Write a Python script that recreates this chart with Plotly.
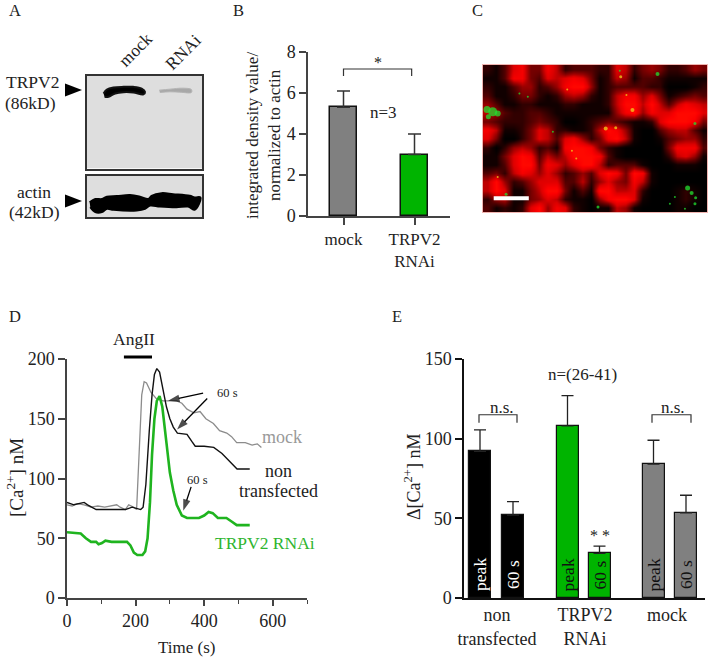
import plotly.graph_objects as go

W, H = 710, 659
SERIF = "Liberation Serif"
INK = "#222222"
GREEN = "#00b400"
GREY = "#808080"

# ---------- Panel B ----------
b_labels = ["mock", "TRPV2<br>RNAi"]
b_values = [5.3, 3.0]
b_errors = [0.8, 1.0]
b_colors = [GREY, GREEN]
b_bracket_x = [0, 0, 0.96, 0.96]
b_bracket_y = [6.83, 7.17, 7.17, 6.83]

# ---------- Panel D ----------
black_t = [0, 20, 50, 60, 85, 120, 170, 190, 205, 215, 222, 230, 240, 248, 255, 262, 270, 280, 290, 300, 310,
           322, 350, 364, 374, 400, 428, 452, 471, 496, 533]
black_v = [80, 78, 80, 78, 74, 74, 74, 76, 75, 74, 76, 95, 140, 170, 187, 192, 189, 175, 160, 150, 143,
           138, 137, 131, 127, 127, 126, 121, 115, 108, 108]
grey_t = [0, 15, 30, 50, 70, 90, 110, 130, 145, 155, 170, 180, 195, 203, 207, 212, 218, 225, 232, 245, 260, 280,
          300, 320, 335, 350, 370, 388, 405, 427, 445, 466, 480, 495, 520, 540, 555, 567]
grey_v = [78, 77, 79, 78, 76, 77, 76, 77, 78, 76, 74, 78, 76, 74, 100, 140, 170, 181, 180, 172, 167, 165,
          165, 165, 163, 158, 155, 156, 150, 146, 140, 138, 135, 130, 130, 128, 129, 126]
green_t = [0, 40, 55, 70, 85, 92, 102, 112, 130, 175, 185, 195, 205, 220, 228, 235, 242, 248, 255, 262, 270, 278,
           290, 300, 310, 320, 335, 350, 385, 400, 413, 425, 440, 465, 480, 495, 533]
green_v = [55, 54, 50, 47, 47, 45, 46, 48, 47, 47, 44, 38, 36, 36, 39, 50, 80, 120, 150, 165, 169, 160,
           130, 105, 90, 78, 69, 67, 67, 69, 72, 71, 67, 67, 64, 61, 61]
angii_t = [166, 248]
arrow1_t, arrow1_v = [397, 295], [171.5, 165]
arrow2_t, arrow2_v = [409, 321], [167, 141]
arrow3_t, arrow3_v = [362, 339], [93, 73]

# ---------- Panel E ----------
e_groups = ["non<br>transfected", "TRPV2<br>RNAi", "mock"]
e_group_x = [33, 121, 203]
e_bar_x = [16, 49, 103.5, 135.5, 189.5, 222]
e_values = [92, 52, 108, 28, 84, 53.5]
e_errors = [13.5, 8.5, 19, 4.5, 15, 11]
e_colors = ["#000000", "#000000", GREEN, GREEN, GREY, GREY]
e_names = ["peak", "60 s", "peak", "60 s", "peak", "60 s"]
e_text_colors = ["#ffffff", "#ffffff", "#111111", "#111111", "#111111", "#111111"]
e_br1_x = [15, 15, 53, 53]
e_br2_x = [188, 188, 227, 227]
e_br_y = [110, 115, 115, 110]

# ---------- Panel A (blot outlines, read in picture units) ----------
band1_x = [70, 80, 100, 130, 160, 185, 195, 190, 160, 130, 105, 85, 73]
band1_y = [70, 58, 52, 50, 50, 55, 65, 73, 67, 66, 70, 80, 80]
band2_x = [238, 270, 310, 335, 335, 300, 270, 240]
band2_y = [60, 57, 54, 58, 67, 66, 65, 67]
actin_x = [28, 45, 65, 80, 110, 150, 180, 205, 215, 245, 280, 330, 345, 362, 358, 345, 325, 290, 240, 210, 195, 170, 100, 80, 65, 45, 30]
actin_y = [395, 385, 385, 378, 376, 373, 378, 385, 375, 367, 370, 375, 380, 380, 400, 418, 408, 410, 408, 405, 415, 420, 418, 415, 425, 425, 410]

micro_rows = [
    "21378448623332276245422354",
    "11388437678741265133211111",
    "21135523589951233332200012",
    "31124421256521268857412343",
    "53112211122111269969636876",
    "65322332111111158958779997",
    "43222343200123432112799984",
    "86112476221126985100356631",
    "74002476378524896100134552",
    "20256523189984210000048883",
    "11479836469998310000026751",
    "11379948757996233310001110",
    "34268757523537984981000000",
    "69523577733625754861000000",
    "69711469941319966720001210",
    "25611457621105899710001210",
    "31212795872101165100001100",
]
micro_z = [[int(c) for c in row] for row in micro_rows]
green_x = [45, 28, 60, 32, 538, 628, 640, 652, 650, 360, 425, 125, 150, 225, 650, 85, 590, 575, 620]
green_y = [155, 148, 160, 170, 42, 383, 398, 412, 430, 440, 32, 100, 110, 215, 190, 402, 410, 430, 445]
green_s = [9, 7, 6, 5, 4, 5, 4, 3, 3, 3, 2, 2, 2, 2, 3, 3, 2, 2, 2]
yellow_x = [463, 428, 383, 413, 295, 282, 268, 445, 60]
yellow_y = [150, 50, 205, 203, 295, 272, 88, 105, 350]
yellow_s = [4, 3, 4, 3, 2, 2, 2, 2, 2]
scalebar_x = [48, 153]
scalebar_y = [414, 414]

fig = go.Figure()


def xdom(a, b):
    return [a / W, b / W]


def ydom(top, bottom):
    return [1 - bottom / H, 1 - top / H]


def note(px, py, text, size=17, color=INK, angle=0):
    return dict(x=px / W, y=1 - py / H, xref="paper", yref="paper", text=text, showarrow=False,
                font=dict(family=SERIF, size=size, color=color), textangle=angle,
                xanchor="center", yanchor="middle")


def triangle(x0, x1, yc, half):
    return dict(type="path", xref="paper", yref="paper", fillcolor="#000000", line_width=0,
                path=f"M {x0 / W} {1 - (yc - half) / H} L {x1 / W} {1 - yc / H} L {x0 / W} {1 - (yc + half) / H} Z")


axis_font = dict(family=SERIF, size=18, color=INK)

# Panel B
fig.add_bar(x=[0, 1], y=b_values, width=0.39, marker=dict(color=b_colors, line=dict(color="#111111", width=1.5)),
            error_y=dict(type="data", symmetric=False, array=b_errors, arrayminus=[0, 0], color="#333333", thickness=1.5, width=6.5),
            xaxis="x", yaxis="y", showlegend=False)
fig.add_scatter(x=b_bracket_x, y=b_bracket_y, mode="lines", line=dict(color="#333333", width=1.2), xaxis="x", yaxis="y", showlegend=False)

# Panel D
fig.add_scatter(x=grey_t, y=grey_v, mode="lines", line=dict(color="#8c8c8c", width=1.3), xaxis="x2", yaxis="y2", showlegend=False)
fig.add_scatter(x=black_t, y=black_v, mode="lines", line=dict(color="#111111", width=1.4), xaxis="x2", yaxis="y2", showlegend=False)
fig.add_scatter(x=green_t, y=green_v, mode="lines", line=dict(color="#1fb41f", width=2.6), xaxis="x2", yaxis="y2", showlegend=False)
for at, av in ((arrow1_t, arrow1_v), (arrow2_t, arrow2_v), (arrow3_t, arrow3_v)):
    fig.add_scatter(x=at, y=av, mode="lines+markers", line=dict(color="#000000", width=1.3),
                    marker=dict(symbol="arrow", size=[0, 12], angleref="previous", color="#000000", line_width=0),
                    xaxis="x2", yaxis="y2", showlegend=False)

# Panel E
fig.add_bar(x=e_bar_x, y=e_values, width=22, marker=dict(color=e_colors, line=dict(color="#111111", width=1.2)),
            error_y=dict(type="data", symmetric=False, array=e_errors, arrayminus=[0] * 6, color="#222222", thickness=1.3, width=6),
            xaxis="x3", yaxis="y3", showlegend=False)
for bx in (e_br1_x, e_br2_x):
    fig.add_scatter(x=bx, y=e_br_y, mode="lines", line=dict(color="#333333", width=1.2), xaxis="x3", yaxis="y3", showlegend=False)

# Panel A blots
fig.add_scatter(x=band1_x, y=band1_y, mode="lines", fill="toself", fillcolor="#000000", line=dict(color="#111111", width=2, shape="spline"), xaxis="x4", yaxis="y4", showlegend=False)
fig.add_scatter(x=band2_x, y=band2_y, mode="lines", fill="toself", fillcolor="#a8a8a8", line=dict(color="#b4b4b4", width=1, shape="spline"), xaxis="x4", yaxis="y4", showlegend=False)
fig.add_scatter(x=actin_x, y=actin_y, mode="lines", fill="toself", fillcolor="#000000", line=dict(color="#000000", width=2, shape="spline"), xaxis="x5", yaxis="y5", showlegend=False)

# Panel C
fig.add_heatmap(z=micro_z, x0=29, dx=25.8, y0=28, dy=25.9, zmin=0, zmax=9, zsmooth="best", showscale=False, hoverinfo="skip",
                colorscale=[[0, "#000000"], [0.12, "#120000"], [0.3, "#480000"], [0.55, "#960000"], [0.75, "#dc0000"], [0.92, "#fc0000"], [1, "#ff0800"]],
                xaxis="x6", yaxis="y6")
fig.add_scatter(x=green_x, y=green_y, mode="markers", marker=dict(color="#22e030", size=green_s, line_width=0, opacity=0.75), xaxis="x6", yaxis="y6", showlegend=False)
fig.add_scatter(x=yellow_x, y=yellow_y, mode="markers", marker=dict(color="#f0e020", size=yellow_s, line_width=0), xaxis="x6", yaxis="y6", showlegend=False)
fig.add_scatter(x=scalebar_x, y=scalebar_y, mode="lines", line=dict(color="#ffffff", width=4), xaxis="x6", yaxis="y6", showlegend=False)

shapes = [
    dict(type="rect", xref="x4", yref="y4", x0=20, x1=367, y0=17, y1=298, fillcolor="#dedede", line_width=0, layer="below"),
    dict(type="rect", xref="x5", yref="y5", x0=20, x1=367, y0=313, y1=440, fillcolor="#dedede", line_width=0, layer="below"),
    dict(type="rect", xref="x6", yref="y6", x0=16, x1=686, y0=15, y1=455, fillcolor="#000000", line_width=0, layer="below"),
    triangle(65, 82, 90, 6.5), triangle(65, 82, 201, 6.5),
    dict(type="line", xref="x2", yref="paper", x0=angii_t[0], x1=angii_t[1], y0=1 - 357 / H, y1=1 - 357 / H, line=dict(color="#000000", width=3)),
]

ax_line = dict(showline=True, showgrid=False, zeroline=False, tickfont=axis_font, ticks="outside")
hidden = dict(showline=True, mirror=True, showgrid=False, zeroline=False, showticklabels=False, ticks="")

bar_notes = [
    dict(x=bx, y=14.5, xref="x3", yref="y3", text=name, showarrow=False, textangle=-90,
         font=dict(family=SERIF, size=17.5, color=col), xanchor="center", yanchor="middle")
    for bx, name, col in zip(e_bar_x, e_names, e_text_colors)
]

fig.update_layout(
    width=W, height=H, margin=dict(l=0, r=0, t=0, b=0, pad=0, autoexpand=False), paper_bgcolor="#ffffff", plot_bgcolor="#ffffff",
    bargap=0, showlegend=False, shapes=shapes,
    xaxis=dict(ax_line, domain=xdom(308, 450), range=[-0.5, 1.5], tickvals=[0, 1], ticktext=b_labels,
               linecolor="#444444", linewidth=1.5, tickcolor="#444444", ticklen=7, tickwidth=1.5,
               tickfont=dict(family=SERIF, size=17, color=INK)),
    yaxis=dict(ax_line, domain=ydom(52, 216), range=[0, 8], dtick=2, anchor="x",
               linecolor="#444444", linewidth=1.5, tickcolor="#444444", ticklen=7, tickwidth=1.5),
    xaxis2=dict(ax_line, domain=xdom(67, 307), range=[0, 700], tickvals=[0, 200, 400, 600], anchor="y2",
                linecolor="#444444", linewidth=1.5, tickcolor="#444444", ticklen=6, tickwidth=1.5,
                minor=dict(dtick=100, ticks="outside", ticklen=4, tickcolor="#444444", tickwidth=1.2)),
    yaxis2=dict(ax_line, domain=ydom(359, 598), range=[0, 200], dtick=50, anchor="x2",
                linecolor="#444444", linewidth=1.5, tickcolor="#444444", ticklen=7, tickwidth=1.5),
    xaxis3=dict(ax_line, domain=xdom(464, 705), range=[0, 241], tickvals=e_group_x, ticktext=e_groups, anchor="y3", ticks="",
                linecolor="#111111", linewidth=1.5, tickfont=dict(family=SERIF, size=18, color=INK)),
    yaxis3=dict(ax_line, domain=ydom(359, 598), range=[0, 150], dtick=50, anchor="x3",
                linecolor="#111111", linewidth=1.5, tickcolor="#111111", ticklen=7, tickwidth=1.5),
    xaxis4=dict(hidden, domain=xdom(87, 202), range=[20, 367], anchor="y4", linecolor="#333333", linewidth=1.5),
    yaxis4=dict(hidden, domain=ydom(76, 168.5), range=[298, 17], anchor="x4", linecolor="#333333", linewidth=1.5),
    xaxis5=dict(hidden, domain=xdom(87, 202), range=[20, 367], anchor="y5", linecolor="#333333", linewidth=1.5),
    yaxis5=dict(hidden, domain=ydom(175.5, 217), range=[440, 313], anchor="x5", linecolor="#333333", linewidth=1.5),
    xaxis6=dict(hidden, domain=xdom(483, 707), range=[16, 686], anchor="y6", linecolor="#f0b4b0", linewidth=1),
    yaxis6=dict(hidden, domain=ydom(65, 212), range=[455, 15], anchor="x6", linecolor="#f0b4b0", linewidth=1),
    annotations=bar_notes + [
        note(15, 11, "A", 16.5), note(238, 11, "B", 16.5), note(477, 11, "C", 16.5), note(15, 316, "D", 16.5), note(397, 316, "E", 16.5),
        note(135, 50, "mock", 17.5, angle=-45), note(183, 52, "RNAi", 17.5, angle=-45),
        note(32, 82, "TRPV2", 17.5), note(30, 103, "(86kD)", 17.5), note(34, 192, "actin", 17.5), note(34, 212, "(42kD)", 17.5),
        note(263, 136, "integrated density value/<br>normalized to actin", 17, angle=-90),
        note(378, 62, "*", 16), note(384, 112, "n=3", 17),
        note(134, 339, "AngII", 17.5), note(15, 478, "[Ca<sup>2+</sup>] nM", 19, angle=-90),
        note(186, 647, "Time (s)", 17),
        note(227, 393, "60 s", 12.5), note(197, 480, "60 s", 12.5),
        note(282, 437, "mock", 18, color="#999999"), note(278, 471, "non", 18), note(278, 491, "transfected", 18),
        note(265, 543, "TRPV2 RNAi", 17.5, color="#2fb52f"),
        note(412, 477, "Δ[Ca<sup>2+</sup>] nM", 18, angle=-90),
        note(502, 407, "n.s.", 17), note(673, 407, "n.s.", 17), note(582, 374, "n=(26-41)", 17), note(600, 535, "* *", 16),
    ],
)

fig.write_html("out.html", config=dict(displayModeBar=False), post_script="document.body.style.margin='0';")
